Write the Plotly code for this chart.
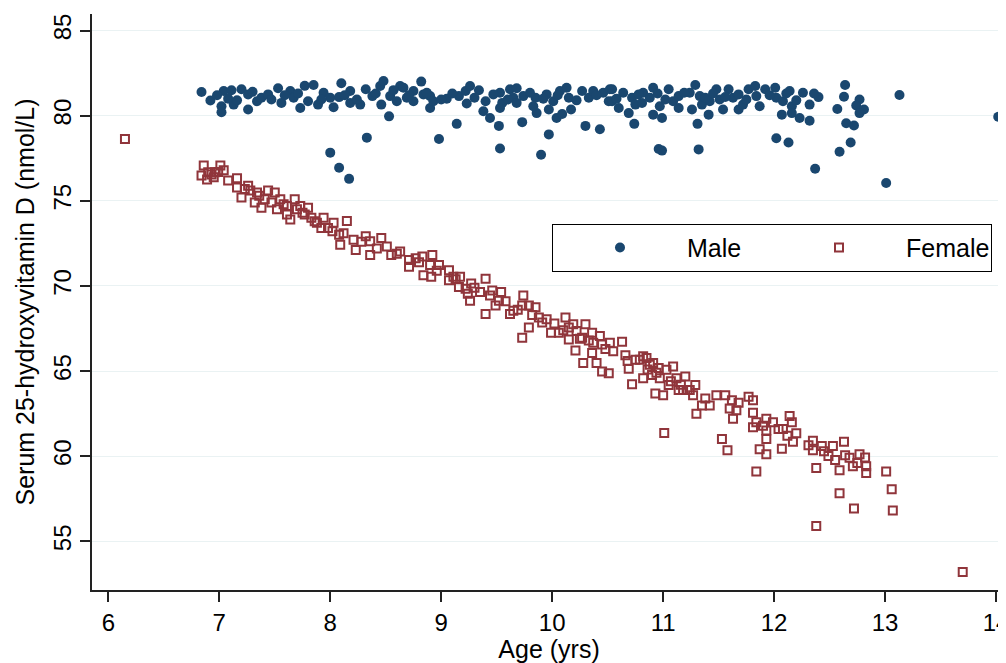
import plotly.graph_objects as go

# ---- Male (age in yrs, serum 25(OH)D nmol/L) ----
male_age = [
    6.84, 6.92, 7.04, 7.02, 7.02, 7.11, 7.13, 7.20, 7.26, 7.26, 7.34, 7.38, 7.44, 7.53, 7.56,
    7.64, 7.67, 7.73, 7.77, 7.85, 7.80, 7.89, 7.94, 8.00, 8.03, 8.10, 8.08, 8.18, 8.18, 8.27,
    8.32, 8.38, 8.45, 8.48, 8.46, 8.54, 8.60, 8.63, 8.53,
    8.00, 8.08, 8.17, 8.33,
    8.66, 8.69, 8.75, 8.75, 8.82, 8.84, 8.90, 8.90, 8.93, 9.05, 9.16, 9.22, 9.26, 9.23, 9.34,
    9.40, 9.38, 9.53, 9.55, 9.53, 9.62, 9.68, 9.65, 9.74, 9.68, 9.85, 9.86, 9.83, 9.95, 9.97,
    10.01, 10.07, 10.13, 10.15, 10.27, 10.33, 10.37, 10.46, 10.52, 10.51,
    8.98, 9.14, 9.53, 9.52, 9.44, 9.90, 9.73, 9.97, 10.04, 10.09, 10.17, 10.30, 10.43,
    10.54, 10.54, 10.64, 10.60, 10.69, 10.72, 10.75, 10.82, 10.81, 10.91, 10.88, 10.97, 10.91,
    10.99, 11.05, 11.09, 11.14, 11.14, 11.24, 11.29, 11.26, 11.33, 11.35, 11.42, 11.41, 11.48,
    11.51, 11.54, 11.59, 11.63, 11.68, 11.68, 11.72, 11.77, 11.83, 11.84, 11.87, 11.92, 12.01,
    12.02, 12.08, 12.14, 12.16, 12.16, 12.26, 12.32, 12.40,
    10.74, 10.96, 10.99, 11.31, 11.32, 12.02, 12.13, 12.37, 12.07, 12.23, 12.32,
    12.64, 12.63, 13.13, 14.02, 12.57, 12.77, 12.74, 12.81, 12.77, 12.65, 12.72, 12.69, 12.59,
    13.01,
    6.98, 7.08, 7.16, 7.30, 7.47, 7.59, 7.71, 7.92, 8.13, 8.24, 8.41, 8.57, 8.71, 8.87, 9.00,
    9.10, 9.30, 9.47, 9.60, 9.80, 9.92, 10.05, 10.22, 10.40, 10.58, 10.78, 10.95, 11.02, 11.19,
    11.38, 11.45, 11.56, 11.75, 11.96, 12.11, 12.20, 12.36,
]
male_vitd = [
    81.39, 80.89, 81.45, 80.55, 80.20, 81.49, 80.65, 81.55, 81.25, 80.36, 80.85, 81.05, 81.25, 81.61, 80.75,
    81.45, 81.05, 80.45, 81.75, 81.80, 80.85, 80.65, 81.35, 81.05, 80.49, 81.90, 81.09, 81.45, 80.75, 80.65,
    81.55, 81.15, 81.74, 82.04, 80.65, 81.15, 80.85, 81.74, 79.96,
    77.83, 76.94, 76.29, 78.71,
    81.64, 81.05, 81.45, 80.85, 82.00, 81.25, 81.15, 80.45, 80.85, 80.99, 81.15, 81.45, 81.74, 80.71, 81.49,
    80.85, 80.26, 81.35, 80.75, 80.45, 81.55, 81.61, 81.05, 81.15, 80.75, 81.05, 80.15, 80.55, 81.25, 80.36,
    80.85, 81.45, 81.64, 81.05, 81.45, 81.05, 81.45, 81.35, 81.55, 80.85,
    78.63, 79.52, 78.07, 79.40, 79.86, 77.71, 79.62, 78.90, 79.86, 80.10, 80.36, 79.40, 79.20,
    81.55, 80.85, 81.35, 80.45, 80.15, 81.05, 80.65, 81.35, 80.75, 81.64, 81.05, 80.55, 80.06,
    79.86, 81.55, 80.85, 81.15, 80.45, 81.35, 81.80, 80.36, 81.15, 80.65, 80.85, 80.06, 81.55,
    80.95, 80.36, 81.55, 81.05, 80.36, 81.25, 80.65, 81.55, 81.74, 81.15, 80.55, 81.55, 81.64,
    81.05, 80.85, 81.45, 80.55, 80.15, 81.35, 80.65, 81.09,
    79.52, 78.04, 77.95, 79.52, 78.02, 78.67, 78.43, 76.88, 80.06, 79.86, 79.70,
    81.80, 81.11, 81.21, 79.94, 80.39, 80.95, 80.60, 80.36, 80.15, 79.56, 79.42, 78.43, 77.88,
    76.05,
    81.20, 81.00, 80.90, 81.40, 80.95, 81.20, 81.30, 80.95, 81.20, 80.95, 81.30, 81.50, 81.20, 81.35, 80.95,
    81.30, 81.05, 81.25, 80.95, 81.35, 81.00, 81.20, 80.90, 81.20, 81.00, 81.25, 81.30, 80.95, 81.35,
    81.05, 81.30, 81.10, 80.95, 81.20, 81.30, 80.90, 81.30,
]

# ---- Female ----
female_age = [
    6.15,
    6.86, 6.84, 6.90, 6.89, 6.96, 7.01, 7.04, 6.95, 7.16, 7.16, 7.20, 7.26, 7.28, 7.34, 7.32,
    7.38, 7.44, 7.41, 7.50, 7.55, 7.52, 7.61, 7.61, 7.68, 7.70, 7.64, 7.73, 7.80, 7.77, 7.83,
    7.88, 7.94, 7.92, 8.03, 8.02, 8.15, 8.08, 8.09, 8.21, 8.23, 8.32, 8.36, 8.36, 8.46, 8.51,
    8.55, 8.63, 8.71, 8.71,
    8.77, 8.83, 8.92, 8.90, 8.84, 8.91, 8.98, 9.07, 9.07, 9.11, 9.17, 9.16, 9.22, 9.24, 9.27,
    9.26, 9.35, 9.40, 9.40, 9.44, 9.46, 9.52, 9.54, 9.49, 9.62, 9.65, 9.74, 9.73, 9.79, 9.79,
    9.73, 9.85, 9.88, 9.91, 9.95, 9.99, 10.06, 10.12, 10.15, 10.15, 10.19, 10.22, 10.21, 10.27,
    10.30, 10.28, 10.36, 10.37, 10.36, 10.40, 10.43, 10.45, 10.45, 10.51, 10.52, 10.55, 10.63,
    10.66, 10.69, 10.72, 10.75, 10.79, 10.82, 10.85, 10.82, 10.88, 10.91, 10.90, 10.93, 10.96,
    10.97, 11.00, 11.03, 11.05, 11.09, 11.01, 11.12, 11.14, 11.18, 11.20, 11.24, 11.29, 11.27,
    11.30, 11.35, 11.42, 11.48, 11.56, 11.60, 11.62, 11.63, 11.68, 11.53, 11.58, 11.77, 11.81,
    11.81, 11.84, 11.81, 11.87, 11.84, 11.93, 11.93, 11.93, 11.93, 11.99, 12.04,
    12.14, 12.16, 12.08, 12.20, 12.17, 12.07, 12.31, 12.35, 12.35, 12.43, 12.38, 12.49, 12.53,
    12.55, 12.63, 12.64, 12.68, 12.59, 12.71, 12.77, 12.82, 12.83, 12.83, 13.01, 13.06, 13.07,
    12.59, 12.72, 12.38, 13.70,
    6.93, 6.99, 7.08, 7.23, 7.36, 7.47, 7.58, 7.75, 7.86, 7.98, 8.12, 8.28, 8.42, 8.60, 8.80,
    8.96, 9.13, 9.30, 9.58, 9.69, 9.82, 10.02, 10.10, 10.25, 10.33, 10.48, 10.68, 10.86, 10.94,
    11.07, 11.16, 11.22, 11.38, 11.66, 11.90, 12.12, 12.45, 12.75,
]
female_vitd = [
    78.63,
    77.08, 76.49, 76.68, 76.25, 76.68, 77.08, 76.79, 76.39, 76.33, 75.79, 75.20, 75.89, 75.60, 75.49, 74.90,
    74.60, 75.60, 75.10, 75.49, 75.10, 74.50, 74.70, 74.20, 75.10, 74.50, 73.90, 74.70, 74.60, 74.20, 74.01,
    73.71, 74.01, 73.41, 73.71, 73.21, 73.81, 73.01, 72.42, 72.71, 72.12, 72.92, 72.62, 71.82, 72.82, 72.32,
    71.82, 72.02, 71.52, 71.13,
    71.63, 71.73, 71.82, 71.23, 70.63, 70.54, 71.23, 70.93, 70.33, 70.54, 70.54, 69.94, 69.84, 69.54, 70.14,
    69.14, 69.64, 70.43, 68.35, 69.44, 69.74, 69.14, 69.64, 68.85, 68.35, 68.55, 69.44, 68.85, 68.85, 67.56,
    66.96, 68.75, 68.15, 67.86, 68.05, 67.26, 67.26, 68.15, 67.56, 66.86, 67.76, 67.36, 66.21, 66.96,
    67.76, 65.48, 67.26, 66.67, 66.07, 65.48, 67.06, 66.57, 64.98, 64.88, 66.67, 66.17, 66.73,
    65.93, 65.14, 64.23, 65.67, 65.67, 65.87, 65.77, 64.58, 65.38, 65.48, 64.78, 63.69, 65.18,
    64.58, 63.59, 65.08, 64.18, 65.27, 61.37, 64.58, 63.89, 63.89, 64.68, 63.89, 64.18, 63.59,
    62.50, 62.99, 62.99, 63.59, 63.59, 62.80, 63.29, 62.20, 63.15, 61.01, 60.36, 63.49, 63.29,
    62.56, 62.00, 61.70, 60.42, 59.11, 62.20, 61.51, 61.01, 60.12, 62.00, 61.61,
    62.36, 62.00, 61.61, 61.35, 60.85, 60.45, 60.65, 60.91, 60.36, 60.61, 59.32, 60.02, 60.61,
    59.78, 60.85, 60.06, 59.92, 59.18, 59.42, 60.12, 59.93, 59.42, 59.02, 59.11, 58.07, 56.82,
    57.83, 56.94, 55.91, 53.21,
    76.55, 76.70, 76.20, 75.70, 75.30, 74.90, 74.80, 74.30, 73.80, 73.40, 73.10, 72.60, 72.20, 71.90, 71.40,
    70.90, 70.40, 69.90, 69.10, 68.60, 68.30, 67.80, 67.40, 66.90, 66.80, 66.30, 65.60, 65.10, 64.90,
    64.40, 64.20, 63.90, 63.40, 62.70, 61.80, 61.20, 60.30, 59.60,
]

x_range = [5.853, 14.09]
y_range = [52.15, 85.97]
x_ticks = [6, 7, 8, 9, 10, 11, 12, 13, 14]
y_ticks = [55, 60, 65, 70, 75, 80, 85]

MALE_C = "#1a476f"
FEMALE_C = "#90353b"
FONT = "Liberation Sans, Arial, sans-serif"

# page body has an 8px default margin; the figure is sized so the plot lands where the reference has it
FIG_W, FIG_H = 998, 655
M_L, M_R, M_T, M_B = 84, 0, 6, 73
plot_w = FIG_W - M_L - M_R
plot_h = FIG_H - M_T - M_B

fig = go.Figure()
fig.add_trace(go.Scatter(
    x=male_age, y=male_vitd, mode="markers", name="Male",
    marker=dict(symbol="circle", size=10, color=MALE_C, line=dict(width=0)),
))
fig.add_trace(go.Scatter(
    x=female_age, y=female_vitd, mode="markers", name="Female",
    marker=dict(symbol="square-open", size=8, color=FEMALE_C, line=dict(width=2, color=FEMALE_C)),
))

fig.update_layout(
    width=FIG_W, height=FIG_H,
    margin=dict(l=M_L, r=M_R, t=M_T, b=M_B, autoexpand=False),
    paper_bgcolor="white", plot_bgcolor="white",
    font=dict(family=FONT, color="black", size=24),
    legend=dict(
        orientation="h", x=(544 - M_L) / plot_w, xanchor="left", y=0.634 + 1 / plot_h, yanchor="top",
        bordercolor="black", borderwidth=1, bgcolor="white",
        font=dict(size=25, family=FONT, color="black"),
        entrywidth=80, entrywidthmode="pixels", itemwidth=124,
    ),
    xaxis=dict(
        range=x_range, tickvals=x_ticks, showgrid=False, zeroline=False,
        showline=True, linecolor="#222", linewidth=1.5,
        ticks="outside", ticklen=10, tickwidth=1.5, tickcolor="#222",
        tickfont=dict(size=24), ticklabeloverflow="allow",
        title=dict(text="Age (yrs)", font=dict(size=25), standoff=15),
    ),
    yaxis=dict(
        range=y_range, tickvals=y_ticks, showgrid=True, gridcolor="#eaf2f3", gridwidth=1.3,
        zeroline=False, showline=True, linecolor="#222", linewidth=1.5,
        ticks="outside", ticklen=10, tickwidth=1.5, tickcolor="#222",
        tickangle=-90, tickfont=dict(size=24),
        title=dict(text="Serum 25-hydroxyvitamin D (nmol/L)", font=dict(size=25), standoff=7),
    ),
)

fig.write_html("out.html")
